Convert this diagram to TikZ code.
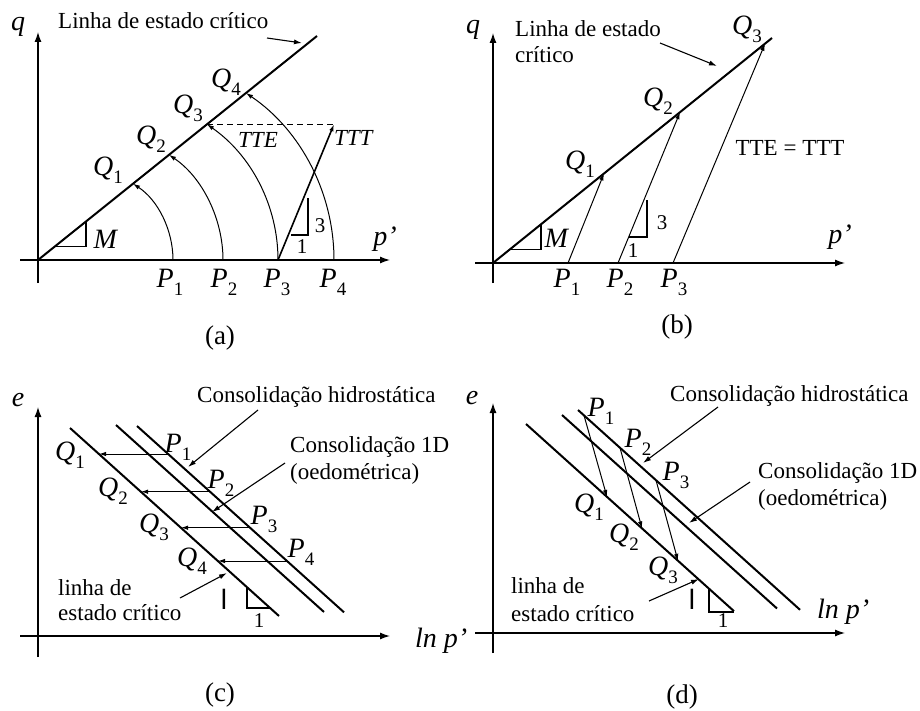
\documentclass[tikz,border=0pt]{standalone}
\usepackage{fontspec}
\setmainfont{Liberation Serif}
\newfontfamily\lamfont{Liberation Sans}
\usetikzlibrary{arrows.meta}
\newcommand{\pqsub}[2]{\textit{#1}\raisebox{-8pt}{\fontsize{19}{20}\selectfont #2}}
\begin{document}
\begin{tikzpicture}[x=1pt,y=-1pt,
  axis/.style={line width=1.3pt,-{Latex[length=10pt,width=7pt]}},
  csl/.style={line width=2pt},
  thinl/.style={line width=1.1pt},
  trail/.style={line width=1pt,-{Latex[length=7pt,width=4.5pt]}},
  ptr/.style={line width=1.1pt,-{Latex[length=8pt,width=5pt]}},
  txt/.style={font=\fontsize{23}{26}\selectfont,inner sep=0pt},
  mlab/.style={font=\fontsize{28}{30}\selectfont,inner sep=0pt},
  smalllab/.style={font=\fontsize{21}{22}\selectfont,inner sep=0pt},
  captxt/.style={font=\fontsize{27}{28}\selectfont,inner sep=0pt},
  lam/.style={font=\fontsize{28}{30}\selectfont\lamfont,inner sep=0pt}]
\useasboundingbox (0,0) rectangle (920,711);
\fill[white] (0,0) rectangle (920,711);

% ================= (a) =================
\coordinate (aO) at (38,260);
\coordinate (aYb) at (38,283); \coordinate (aYt) at (38,32);
\coordinate (aXl) at (20,260); \coordinate (aXr) at (390,260);
\draw[axis] (aYb) -- (aYt);
\draw[axis] (aXl) -- (aXr);
\coordinate (aL) at (317,36);
\draw[csl] (aO) -- (aL);
\node[mlab] (aq) at (18,27) {\textit{q}};
\node[mlab] (ap) at (385,239) {\textit{p’}};
\node[txt,anchor=base west] (atitle) at (58,29) {Linha de estado crítico};
\coordinate (aPs) at (267,38); \coordinate (aPe) at (302,43);
\draw[ptr] (aPs) -- (aPe);
\coordinate (aM1) at (55,246.3); \coordinate (aM2) at (86,246.3); \coordinate (aM3) at (86,221.5);
\draw[thinl] (aM1) -- (aM2) -- (aM3);
\node[mlab] (aM) at (106,239) {\textit{M}};
\coordinate (aP1) at (173,260); \coordinate (aP2) at (223,260);
\coordinate (aP3) at (278,260); \coordinate (aP4) at (334,260);
\coordinate (aQ1) at (133,183.7); \coordinate (aQ2) at (169,154.8);
\coordinate (aQ3) at (207,124.3); \coordinate (aQ4) at (246,93);
\draw[trail] (aP1) .. controls +(0,-30) and +(25,16.4) .. (aQ1);
\draw[trail] (aP2) .. controls +(0,-40.8) and +(33.7,22.9) .. (aQ2);
\draw[trail] (aP3) .. controls +(0,-54.2) and +(44.4,31) .. (aQ3);
\draw[trail] (aP4) .. controls +(0,-66.6) and +(55.1,37.4) .. (aQ4);
\coordinate (aTT) at (334,124.3);
\draw[line width=1pt,dash pattern=on 6pt off 4pt] (aQ3) -- (aTT);
\draw[line width=1.6pt,-{Latex[length=7pt,width=4.5pt]}] (aP3) -- (aTT);
\coordinate (aT1) at (291,235); \coordinate (aT2) at (308,235); \coordinate (aT3) at (308,198);
\draw[thinl] (aT1) -- (aT2) -- (aT3);
\node[smalllab] (a3) at (320,226) {3};
\node[smalllab] (a1) at (302,247) {1};
\node[txt] (aTTE) at (258,140) {\textit{TTE}};
\node[txt] (aTTT) at (354,138) {\textit{TTT}};
\node[mlab] (alQ1) at (108,170) {\pqsub{Q}{1}};
\node[mlab] (alQ2) at (151,139) {\pqsub{Q}{2}};
\node[mlab] (alQ3) at (188,108) {\pqsub{Q}{3}};
\node[mlab] (alQ4) at (226,82) {\pqsub{Q}{4}};
\node[mlab] (alP1) at (170,282) {\pqsub{P}{1}};
\node[mlab] (alP2) at (224,282) {\pqsub{P}{2}};
\node[mlab] (alP3) at (277,282) {\pqsub{P}{3}};
\node[mlab] (alP4) at (333,282) {\pqsub{P}{4}};
\node[captxt] (capa) at (220,338) {(a)};

% ================= (b) =================
\coordinate (bO) at (493,263);
\coordinate (bYb) at (493,283); \coordinate (bYt) at (493,33);
\coordinate (bXl) at (475,263); \coordinate (bXr) at (845,263);
\draw[axis] (bYb) -- (bYt);
\draw[axis] (bXl) -- (bXr);
\coordinate (bL) at (772,38);
\draw[csl] (bO) -- (bL);
\node[mlab] (bq) at (473,30) {\textit{q}};
\node[mlab] (bp) at (840,237) {\textit{p’}};
\node[txt,anchor=base west] (btitle1) at (515,37) {Linha de estado};
\node[txt,anchor=base west] (btitle2) at (515,63) {crítico};
\coordinate (bPs) at (660,43); \coordinate (bPe) at (717,66);
\draw[ptr] (bPs) -- (bPe);
\coordinate (bM1) at (510,249.3); \coordinate (bM2) at (541,249.3); \coordinate (bM3) at (541,224.3);
\draw[thinl] (bM1) -- (bM2) -- (bM3);
\node[mlab] (bM) at (557,238) {\textit{M}};
\coordinate (bP1) at (568,263); \coordinate (bP2) at (618,263); \coordinate (bP3) at (673,263);
\coordinate (bQ1) at (604,173.5); \coordinate (bQ2) at (680,112.3); \coordinate (bQ3) at (765,43.8);
\draw[trail] (bP1) -- (bQ1);
\draw[trail] (bP2) -- (bQ2);
\draw[trail] (bP3) -- (bQ3);
\coordinate (bT1) at (629,237); \coordinate (bT2) at (647,237); \coordinate (bT3) at (647,200);
\draw[thinl] (bT1) -- (bT2) -- (bT3);
\node[smalllab] (b3) at (662,223) {3};
\node[smalllab] (b1) at (633,251) {1};
\node[txt,anchor=base] (bTT) at (790,156) {TTE = TTT};
\node[mlab] (blQ1) at (580,164) {\pqsub{Q}{1}};
\node[mlab] (blQ2) at (658,101) {\pqsub{Q}{2}};
\node[mlab] (blQ3) at (747,29) {\pqsub{Q}{3}};
\node[mlab] (blP1) at (567,282) {\pqsub{P}{1}};
\node[mlab] (blP2) at (620,282) {\pqsub{P}{2}};
\node[mlab] (blP3) at (674,282) {\pqsub{P}{3}};
\node[captxt] (capb) at (677,327) {(b)};

% ================= (c) =================
\coordinate (cO) at (38,636);
\coordinate (cYb) at (38,657); \coordinate (cYt) at (38,407);
\coordinate (cXl) at (20,636); \coordinate (cXr) at (390,636);
\draw[axis] (cYb) -- (cYt);
\draw[axis] (cXl) -- (cXr);
\node[mlab] (ce) at (18,400) {\textit{e}};
\node[mlab,anchor=base west] (cln) at (415,647) {\textit{ln p’}};
\coordinate (cA1) at (70,428); \coordinate (cA2) at (279,616);
\coordinate (cB1) at (116,425); \coordinate (cB2) at (324,612);
\coordinate (cC1) at (137,426); \coordinate (cC2) at (344,612.3);
\draw[csl] (cA1) -- (cA2);
\draw[csl] (cB1) -- (cB2);
\draw[csl] (cC1) -- (cC2);
\coordinate (cP1) at (168,454); \coordinate (cQ1) at (99,454);
\coordinate (cP2) at (210,491.7); \coordinate (cQ2) at (141,491.7);
\coordinate (cP3) at (250,527.7); \coordinate (cQ3) at (181,527.7);
\coordinate (cP4) at (287,561); \coordinate (cQ4) at (218,561);
\draw[trail] (cP1) -- (cQ1);
\draw[trail] (cP2) -- (cQ2);
\draw[trail] (cP3) -- (cQ3);
\draw[trail] (cP4) -- (cQ4);
\node[mlab] (clP1) at (178,447) {\pqsub{P}{1}};
\node[mlab] (clP2) at (221,483) {\pqsub{P}{2}};
\node[mlab] (clP3) at (264,519) {\pqsub{P}{3}};
\node[mlab] (clP4) at (301,552) {\pqsub{P}{4}};
\node[mlab] (clQ1) at (70,455) {\pqsub{Q}{1}};
\node[mlab] (clQ2) at (113,491) {\pqsub{Q}{2}};
\node[mlab] (clQ3) at (154,527) {\pqsub{Q}{3}};
\node[mlab] (clQ4) at (192,561) {\pqsub{Q}{4}};
\node[txt,anchor=base west] (chyd) at (197,402) {Consolidação hidrostática};
\coordinate (chs) at (258,410); \coordinate (che) at (188,467);
\draw[ptr] (chs) -- (che);
\node[txt,anchor=base west] (c1d) at (290,452) {Consolidação 1D};
\node[txt,anchor=base west] (coed) at (290,479) {(oedométrica)};
\coordinate (c1s) at (285,463); \coordinate (c1e) at (212,512);
\draw[ptr] (c1s) -- (c1e);
\node[txt,anchor=base west] (clin1) at (58,595) {linha de};
\node[txt,anchor=base west] (clin2) at (58,620) {estado crítico};
\coordinate (cls) at (180,598); \coordinate (cle) at (227,573);
\draw[ptr] (cls) -- (cle);
\node[lam] (clam) at (224,599) {l};
\coordinate (cT1) at (247,587); \coordinate (cT2) at (247,608); \coordinate (cT3) at (270,608);
\draw[thinl] (cT1) -- (cT2) -- (cT3);
\node[smalllab] (c1) at (259,621) {1};
\node[captxt] (capc) at (220,695) {(c)};

% ================= (d) =================
\coordinate (dO) at (493,633);
\coordinate (dYb) at (493,653); \coordinate (dYt) at (493,403);
\coordinate (dXl) at (475,633); \coordinate (dXr) at (845,633);
\draw[axis] (dYb) -- (dYt);
\draw[axis] (dXl) -- (dXr);
\node[mlab] (de) at (472,398) {\textit{e}};
\node[mlab,anchor=base west] (dln) at (817,618) {\textit{ln p’}};
\coordinate (dA1) at (526,424); \coordinate (dA2) at (734,611.2);
\coordinate (dB1) at (562,415); \coordinate (dB2) at (777,608.5);
\coordinate (dC1) at (578,410); \coordinate (dC2) at (800,609.8);
\draw[csl] (dA1) -- (dA2);
\draw[csl] (dB1) -- (dB2);
\draw[csl] (dC1) -- (dC2);
\coordinate (dP1) at (584,415.4); \coordinate (dQ1) at (607,496.9);
\coordinate (dP2) at (620,447.8); \coordinate (dQ2) at (642,528.4);
\coordinate (dP3) at (656,480.2); \coordinate (dQ3) at (678,560.8);
\draw[trail] (dP1) -- (dQ1);
\draw[trail] (dP2) -- (dQ2);
\draw[trail] (dP3) -- (dQ3);
\node[mlab] (dlP1) at (601,411) {\pqsub{P}{1}};
\node[mlab] (dlP2) at (638,442) {\pqsub{P}{2}};
\node[mlab] (dlP3) at (676,475) {\pqsub{P}{3}};
\node[mlab] (dlQ1) at (589,507) {\pqsub{Q}{1}};
\node[mlab] (dlQ2) at (624,537) {\pqsub{Q}{2}};
\node[mlab] (dlQ3) at (663,570) {\pqsub{Q}{3}};
\node[txt,anchor=base west] (dhyd) at (670,401) {Consolidação hidrostática};
\coordinate (dhs) at (718,407); \coordinate (dhe) at (643,463);
\draw[ptr] (dhs) -- (dhe);
\node[txt,anchor=base west] (d1d) at (758,478) {Consolidação 1D};
\node[txt,anchor=base west] (doed) at (758,505) {(oedométrica)};
\coordinate (d1s) at (750,482); \coordinate (d1e) at (689,523);
\draw[ptr] (d1s) -- (d1e);
\node[txt,anchor=base west] (dlin1) at (511,593) {linha de};
\node[txt,anchor=base west] (dlin2) at (511,621) {estado crítico};
\coordinate (dls) at (649,601); \coordinate (dle) at (699,579);
\draw[ptr] (dls) -- (dle);
\node[lam] (dlam) at (692,599) {l};
\coordinate (dT1) at (709,588.7); \coordinate (dT2) at (709,612); \coordinate (dT3) at (734,612);
\draw[thinl] (dT1) -- (dT2) -- (dT3);
\node[smalllab] (d1) at (723,621) {1};
\node[captxt] (capd) at (682,697) {(d)};
\end{tikzpicture}
\end{document}
